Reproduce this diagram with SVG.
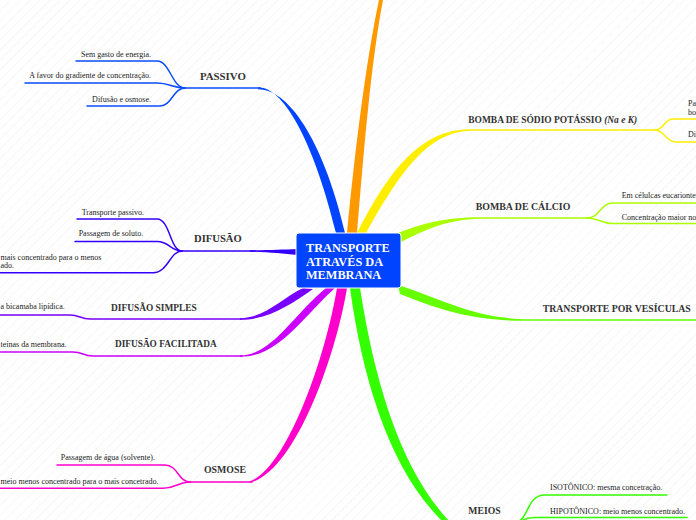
<svg xmlns="http://www.w3.org/2000/svg" width="696" height="520" viewBox="0 0 696 520">
<style>
.lbl{font-family:"Liberation Serif","Times New Roman",serif;font-weight:bold;fill:#333333}
.txt{font-family:"Liberation Serif","Times New Roman",serif;font-size:8px;fill:#222222}
.ctr{font-family:"Liberation Serif","Times New Roman",serif;font-weight:bold;font-size:12.3px;fill:#ffffff}
.ln{fill:none;stroke-width:1.5;stroke-linecap:round}
</style>
<defs>
<pattern id="hatch" patternUnits="userSpaceOnUse" width="7" height="7" patternTransform="rotate(45)">
<line x1="0" y1="0" x2="0" y2="7" stroke="#efefef" stroke-width="1"/>
</pattern>
</defs>
<rect width="696" height="520" fill="#ffffff"/>
<rect width="696" height="520" fill="url(#hatch)"/>

<g id="connectors">
<path d="M347,233 C355,150 366,60 380,-5 L384,-5 C371,60 364,150 357,233 Z" fill="#ff9900"/>
<path d="M258,87.2 C286,87.2 316,150 336,233 L345,233 C326,150 292,89.2 258,89.2 Z" fill="#0044ff"/>
<g stroke="#0a4dff" class="ln">
<path d="M76,61 L157,61 C170,61 172,88 185,88"/>
<path d="M25,83 L157,83 C170,83 172,88 185,88"/>
<path d="M87,106 L160,106 C172,106 173,88 185,88"/>
<path d="M185,88 L260,88"/>
</g>
<path d="M250,250.3 C270,250.1 282,249.6 298,249 L298,255 C282,254 270,252 250,251.8 Z" fill="#3300ff"/>
<g stroke="#3300ff" class="ln">
<path d="M77,219 L157,219 C170,219 170,251 182,251"/>
<path d="M75,241.5 L157,241.5 C170,241.5 170,251 182,251"/>
<path d="M-2,272.7 L153,272.7 C168,272.7 170,251 182,251"/>
<path d="M182,251 L255,251"/>
</g>
<path d="M303,288 C282,298 265,318 240,318.2 L240,319.7 C268,320 290,305 313,289 Z" fill="#7700ff"/>
<path class="ln" stroke="#7700ff" d="M-2,315 L70,315 C80,315 80,319 90,319 L242,319"/>
<path d="M326,288 C292,316 272,355.3 240,355.3 L240,356.8 C278,357 300,320 335,288 Z" fill="#cc00ff"/>
<path class="ln" stroke="#cc00ff" d="M-2,352 L73,352 C83,352 83,356 93,356 L242,356"/>
<path d="M337,288 C325,360 286,469 250,481.2 L250,482.7 C294,472 335,360 347,288 Z" fill="#ff00cc"/>
<g stroke="#ff00cc" class="ln">
<path d="M57,465 L165,465 C178,465 178,482 190,482"/>
<path d="M-2,488.3 L163,488.3 C176,488.3 178,482 190,482"/>
<path d="M190,482 L252,482"/>
</g>
<path d="M357,233 C390,168 422,129.3 470,129.3 L470,130.8 C428,132 400,172 366,233 Z" fill="#ffee00"/>
<g stroke="#ffee00" class="ln">
<path d="M470,130 L655,130"/>
<path d="M655,130 C664,130 664,119 673,119 L698,119"/>
<path d="M655,130 C664,130 666,142 676,142 L698,142"/>
</g>
<path d="M396,234 C420,224 445,217.3 480,217.3 L480,218.8 C447,219.5 425,230 401,242 Z" fill="#aaff00"/>
<g stroke="#aaff00" class="ln">
<path d="M480,218 L587,218"/>
<path d="M587,218 C600,218 600,203 613,203 L698,203"/>
<path d="M587,218 C600,218 600,223.5 613,223.5 L698,223.5"/>
</g>
<path d="M398,285 C440,298 475,319.3 530,319.3 L530,320.8 C475,321.5 440,310 400,294 Z" fill="#66ff00"/>
<path class="ln" stroke="#66ff00" d="M530,320 L698,320"/>
<path d="M350,288 C364,390 395,482 452,530 L456,528 C404,478 376,390 360,288 Z" fill="#33ff00"/>
<g stroke="#33ff00" class="ln">
<path d="M454,524 L512,523"/>
<path d="M512,523 C530,523 525,495 545,495 L667,495"/>
<path d="M512,523 C522,523 522,517.5 534,517.5 L687,517.5"/>
</g>
</g>

<g id="center">
<rect x="296" y="233" width="105" height="55" rx="3" fill="#0044ff" stroke="#ffffff" stroke-width="1"/>
<text class="ctr" x="306" y="252.3">TRANSPORTE</text>
<text class="ctr" x="306" y="265.7">ATRAVÉS DA</text>
<text class="ctr" x="306" y="279.3">MEMBRANA</text>
</g>

<g id="passivo"><text class="lbl" x="200" y="80" font-size="10.8">PASSIVO</text></g>
<g id="passivo-1"><text class="txt" x="151" y="56.5" text-anchor="end">Sem gasto de energia.</text></g>
<g id="passivo-2"><text class="txt" x="151" y="78" text-anchor="end">A favor do gradiente de concentração.</text></g>
<g id="passivo-3"><text class="txt" x="151" y="101.5" text-anchor="end">Difusão e osmose.</text></g>

<g id="difusao"><text class="lbl" x="194" y="241.5" font-size="10.6">DIFUSÃO</text></g>
<g id="difusao-1"><text class="txt" x="144" y="215" text-anchor="end">Transporte passivo.</text></g>
<g id="difusao-2"><text class="txt" x="143.3" y="236" text-anchor="end">Passagem de soluto.</text></g>
<g id="difusao-3"><text class="txt" x="0.5" y="259.5">mais concentrado para o menos</text><text class="txt" x="0.5" y="268">ado.</text></g>

<g id="difusao-simples"><text class="lbl" x="111" y="310.5" font-size="9.4">DIFUSÃO SIMPLES</text></g>
<g id="difusao-simples-1"><text class="txt" x="0.5" y="309">a bicamaba lipídica.</text></g>

<g id="difusao-facilitada"><text class="lbl" x="115" y="347" font-size="9.3">DIFUSÃO FACILITADA</text></g>
<g id="difusao-facilitada-1"><text class="txt" x="0.5" y="347">teínas da membrana.</text></g>

<g id="osmose"><text class="lbl" x="204" y="473" font-size="9.8">OSMOSE</text></g>
<g id="osmose-1"><text class="txt" x="60.7" y="460">Passagem de água (solvente).</text></g>
<g id="osmose-2"><text class="txt" x="0.5" y="484">meio menos concentrado para o mais concetrado.</text></g>

<g id="bomba-sodio"><text class="lbl" x="468.3" y="122.5" font-size="9.45">BOMBA DE SÓDIO POTÁSSIO <tspan font-style="italic">(Na e K)</tspan></text></g>
<g id="bomba-sodio-1"><text class="txt" x="688" y="105.5">Pa</text><text class="txt" x="688" y="115">bo</text></g>
<g id="bomba-sodio-2"><text class="txt" x="688" y="136.5">Di</text></g>

<g id="bomba-calcio"><text class="lbl" x="475.7" y="210" font-size="9.86">BOMBA DE CÁLCIO</text></g>
<g id="bomba-calcio-1"><text class="txt" x="621.7" y="197.5">Em célulcas eucarionte</text></g>
<g id="bomba-calcio-2"><text class="txt" x="621.7" y="219.5">Concentração maior no</text></g>

<g id="vesiculas"><text class="lbl" x="542.7" y="312" font-size="9.8">TRANSPORTE POR VESÍCULAS</text></g>

<g id="meios"><text class="lbl" x="468.3" y="514" font-size="9.7">MEIOS</text></g>
<g id="meios-1"><text class="txt" x="550" y="490">ISOTÔNICO: mesma concetração.</text></g>
<g id="meios-2"><text class="txt" x="550" y="514">HIPOTÔNICO: meio menos concentrado.</text></g>
</svg>
